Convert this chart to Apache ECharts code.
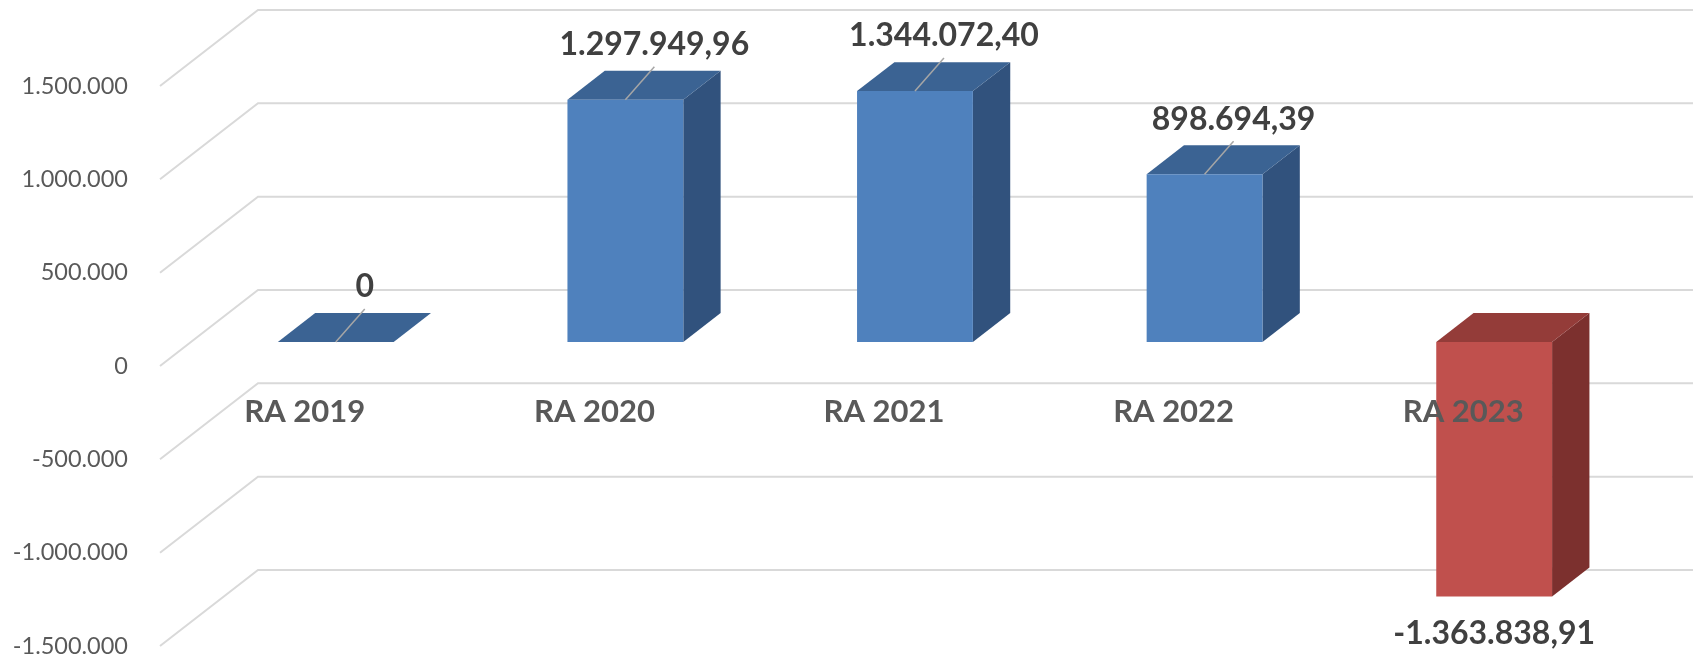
<!DOCTYPE html>
<html>
<head>
<meta charset="utf-8">
<script src="https://cdn.jsdelivr.net/npm/echarts@6/dist/echarts.min.js"></script>
<style>
  html, body { margin: 0; padding: 0; background: #fff; }
  #chart { width: 1693px; height: 656px; }
</style>
</head>
<body>
<div id="chart"></div>
<script>
// data
var categories = ["RA 2019", "RA 2020", "RA 2021", "RA 2022", "RA 2023"];
var values = [0, 1297949.96, 1344072.40, 898694.39, -1363838.91];
var yTicks = [-1500000, -1000000, -500000, 0, 500000, 1000000, 1500000];

// 3D look: oblique depth of the side wall and of the columns (pixels)
var WALL_DX = 98, WALL_DY = 76;
var BAR_FRONT = 0.316, BAR_BACK = 0.697;

var COLORS = {
    pos: { front: "#4f81bd", top: "#3b6393", side: "#31527d" },
    neg: { front: "#c0504d", top: "#943c39", side: "#7c302e" }
};
var FONT = 'Lato, "Liberation Sans", sans-serif';

function fmtThousands(n) {
    var s = String(Math.abs(Math.round(n)));
    return (n < 0 ? "-" : "") + s.replace(/\B(?=(\d{3})+(?!\d))/g, ".");
}
function fmtValue(v) {
    if (v === 0) return "0";
    var neg = v < 0;
    var a = Math.abs(v);
    var ip = Math.floor(a);
    var dp = Math.round((a - ip) * 100);
    if (dp === 100) { ip += 1; dp = 0; }
    return (neg ? "-" : "") + fmtThousands(ip) + "," + (dp < 10 ? "0" : "") + dp;
}

var chart = echarts.init(document.getElementById("chart"));

// perspective gridlines: side wall diagonal + back wall line
function renderGrid(params, api) {
    var cs = params.coordSys;
    var y = api.coord([0, api.value(1)])[1];
    var x0 = cs.x;
    return {
        type: "polyline",
        shape: {
            points: [
                [x0, y],
                [x0 + WALL_DX, y - WALL_DY],
                [api.getWidth() + 10, y - WALL_DY]
            ]
        },
        style: { stroke: "#d9d9d9", lineWidth: 2, fill: null },
        silent: true
    };
}

function renderBar(params, api) {
    var idx = api.value(0);
    var v = api.value(1);
    var p0 = api.coord([idx, 0]);
    var p1 = api.coord([idx, v]);
    var w = api.size([1, 0])[0] * 0.4;
    var fx = BAR_FRONT * WALL_DX, fy = BAR_FRONT * WALL_DY;
    var bx = (BAR_BACK - BAR_FRONT) * WALL_DX, by = (BAR_BACK - BAR_FRONT) * WALL_DY;
    var cx = p0[0] + fx;
    var xl = cx - w / 2, xr = cx + w / 2;
    var yTop = Math.min(p0[1], p1[1]) - fy;
    var yBot = Math.max(p0[1], p1[1]) - fy;
    var c = v < 0 ? COLORS.neg : COLORS.pos;
    var children = [
        { type: "polygon", shape: { points: [[xr, yTop], [xr + bx, yTop - by], [xr + bx, yBot - by], [xr, yBot]] },
          style: { fill: c.side } },
        { type: "polygon", shape: { points: [[xl, yTop], [xr, yTop], [xr + bx, yTop - by], [xl + bx, yTop - by]] },
          style: { fill: c.top } },
        { type: "rect", shape: { x: xl, y: yTop, width: w, height: yBot - yTop },
          style: { fill: c.front } }
    ];
    var font = "bold 32px " + FONT;
    if (v >= 0) {
        children.push({ type: "line", shape: { x1: cx, y1: yTop, x2: cx + 29, y2: yTop - 33 },
            style: { stroke: "#a6a6a6", lineWidth: 1.5 } });
        children.push({ type: "text", x: cx + 29, y: yTop - 55,
            style: { text: fmtValue(v), font: font, fill: "#404040", align: "center", verticalAlign: "middle" } });
    } else {
        children.push({ type: "text", x: cx, y: yBot + 37,
            style: { text: fmtValue(v), font: font, fill: "#404040", align: "center", verticalAlign: "middle" } });
    }
    return { type: "group", children: children };
}

// category names on the front edge of the floor, drawn above the columns
function renderCategory(params, api) {
    var p = api.coord([api.value(0), 0]);
    return {
        type: "text",
        x: p[0],
        y: p[1] + 46,
        style: {
            text: categories[params.dataIndex],
            font: "bold 31px " + FONT,
            fill: "#595959",
            align: "center",
            verticalAlign: "middle"
        },
        silent: true
    };
}

var option = {
    backgroundColor: "#ffffff",
    animation: false,
    grid: { left: 160, width: 1448, top: 86, height: 560, containLabel: false, outerBoundsMode: "none" },
    xAxis: {
        type: "category",
        data: categories,
        axisLine: { show: false },
        axisTick: { show: false },
        axisLabel: { show: false }
    },
    yAxis: {
        type: "value",
        min: -1500000,
        max: 1500000,
        interval: 500000,
        axisLine: { show: false },
        axisTick: { show: false },
        splitLine: { show: false },
        axisLabel: {
            margin: 32,
            color: "#595959",
            fontFamily: FONT,
            fontSize: 23.5,
            formatter: function (val) { return fmtThousands(val); }
        }
    },
    series: [
        {
            type: "custom",
            z: 1,
            silent: true,
            renderItem: renderGrid,
            data: yTicks.map(function (t) { return [0, t]; })
        },
        {
            type: "custom",
            z: 2,
            renderItem: renderBar,
            data: values.map(function (v, i) { return [i, v]; })
        },
        {
            type: "custom",
            z: 3,
            silent: true,
            renderItem: renderCategory,
            data: categories.map(function (c, i) { return [i, 0]; })
        }
    ]
};

chart.setOption(option);
</script>
</body>
</html>
